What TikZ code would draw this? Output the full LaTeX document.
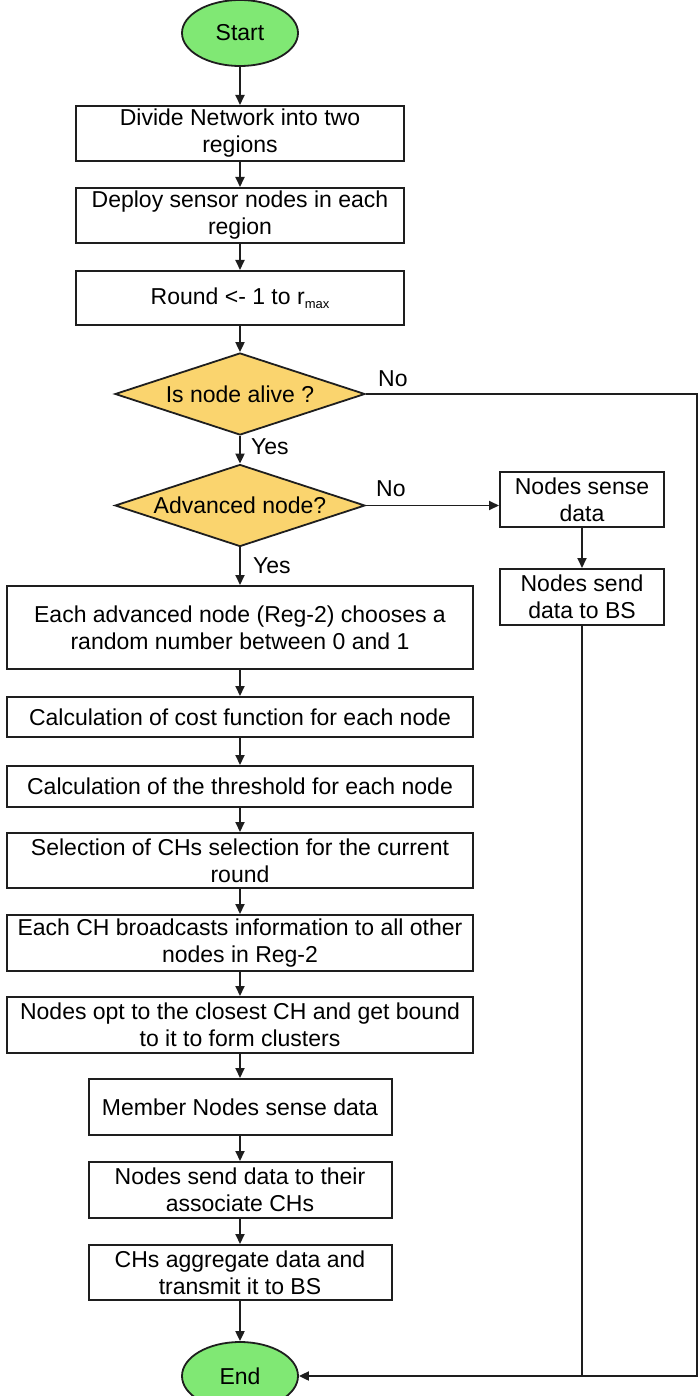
\documentclass[tikz,border=0pt]{standalone}
\usepackage{fontspec}
\setmainfont{Liberation Sans}
\usetikzlibrary{shapes.geometric,arrows.meta}
\definecolor{startgreen}{RGB}{128,232,116}
\definecolor{decgold}{RGB}{250,212,110}
\definecolor{lineclr}{RGB}{30,30,30}
\tikzset{
  every node/.style={font=\fontsize{23}{27}\selectfont},
  procbox/.style={draw=lineclr, line width=2pt, rectangle, align=center, inner sep=0pt},
  termnode/.style={draw=lineclr, line width=1.8pt, ellipse, fill=startgreen, minimum width=116pt, minimum height=66pt, inner sep=0pt},
  decnode/.style={draw=lineclr, line width=1.8pt, diamond, fill=decgold, shape aspect=3, minimum width=250pt, minimum height=82pt, inner sep=0pt},
  conn/.style={draw=lineclr, line width=1.9pt, -{Triangle[length=10pt,width=9pt]}},
  plainconn/.style={draw=lineclr, line width=1.9pt},
  lbl/.style={inner sep=0pt}
}
\begin{document}
\begin{tikzpicture}[x=1pt,y=-1pt]
\useasboundingbox (0,0) rectangle (698,1396);
\node[termnode] (st) at (240,33) {Start};
\node[procbox, minimum width=328pt, minimum height=55pt] (b1) at (240,133.5) {Divide Network into two\\regions};
\node[procbox, minimum width=328pt, minimum height=55pt] (b2) at (240,215.5) {Deploy sensor nodes in each\\region};
\node[procbox, minimum width=328pt, minimum height=54pt] (b3) at (240,298) {Round <- 1 to r\raisebox{-0.35ex}{\fontsize{13}{13}\selectfont max}};
\node[decnode] (d1) at (240,394) {Is node alive ?};
\node[decnode] (d2) at (240,505.5) {Advanced node?};
\node[procbox, minimum width=164pt, minimum height=55pt] (ns) at (582,499.5) {Nodes sense\\data};
\node[procbox, minimum width=164pt, minimum height=56pt] (nb) at (582,597) {Nodes send\\data to BS};
\node[procbox, minimum width=466pt, minimum height=83pt] (e1) at (240,627.5) {Each advanced node (Reg-2) chooses a\\random number between 0 and 1};
\node[procbox, minimum width=466pt, minimum height=40pt] (c1) at (240,717) {Calculation of cost function for each node};
\node[procbox, minimum width=466pt, minimum height=41pt] (c2) at (240,786.5) {Calculation of the threshold for each node};
\node[procbox, minimum width=466pt, minimum height=55pt] (s1) at (240,860.5) {Selection of CHs selection for the current\\round};
\node[procbox, minimum width=466pt, minimum height=56pt] (bc) at (240,943) {Each CH broadcasts information to all other\\nodes in Reg-2};
\node[procbox, minimum width=466pt, minimum height=56pt] (op) at (240,1025) {Nodes opt to the closest CH and get bound\\to it to form clusters};
\node[procbox, minimum width=303pt, minimum height=56pt] (mm) at (240,1107) {Member Nodes sense data};
\node[procbox, minimum width=303pt, minimum height=56pt] (sd) at (240,1190) {Nodes send data to their\\associate CHs};
\node[procbox, minimum width=303pt, minimum height=55pt] (ag) at (240,1272.5) {CHs aggregate data and\\transmit it to BS};
\node[termnode, minimum height=68pt] (en) at (240,1376) {End};
\coordinate (r1) at (697,394);
\coordinate (r2) at (697,1376);
\draw[conn] (st) -- (b1);
\draw[conn] (b1) -- (b2);
\draw[conn] (b2) -- (b3);
\draw[conn] (b3) -- (d1);
\draw[conn] (d1) -- (d2);
\draw[conn] (d2) -- (e1);
\draw[conn] (d2.east) -- (ns.west |- d2.east);
\draw[conn] (ns) -- (nb);
\draw[conn] (e1) -- (c1);
\draw[conn] (c1) -- (c2);
\draw[conn] (c2) -- (s1);
\draw[conn] (s1) -- (bc);
\draw[conn] (bc) -- (op);
\draw[conn] (op) -- (mm);
\draw[conn] (mm) -- (sd);
\draw[conn] (sd) -- (ag);
\draw[conn] (ag) -- (en);
\draw[conn] (d1.east) -- (r1) -- (r2) -- (en.east);
\draw[plainconn] (nb.south) -- (nb.south |- en.east);
\node[lbl, anchor=west] (no1) at (378,379) {No};
\node[lbl, anchor=west] (yes1) at (251,447) {Yes};
\node[lbl, anchor=west] (no2) at (376,489) {No};
\node[lbl, anchor=west] (yes2) at (253,566) {Yes};
\end{tikzpicture}
\end{document}
